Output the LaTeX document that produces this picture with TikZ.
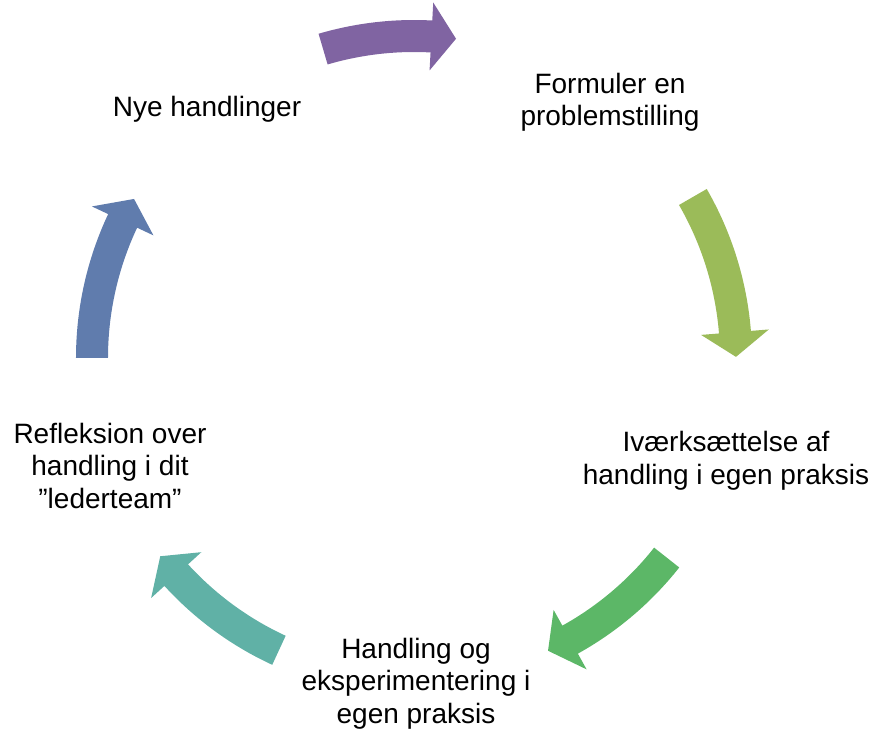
\documentclass[tikz,border=0pt]{standalone}
\usepackage{fontspec}
\setmainfont{Liberation Sans}
\definecolor{arrowpurple}{RGB}{128,100,162}
\definecolor{arrowlime}{RGB}{155,187,89}
\definecolor{arrowgreen}{RGB}{92,183,103}
\definecolor{arrowteal}{RGB}{96,177,166}
\definecolor{arrowblue}{RGB}{96,124,173}
\begin{document}
\begin{tikzpicture}[x=1pt,y=1pt,
  steplabel/.style={align=center, anchor=base, inner sep=0pt,
    font=\fontsize{28}{32.5}\selectfont}]
\useasboundingbox (-414,-372) rectangle (463,358);

% curved block arrows on the cycle: tail angle / tip angle / colour
% body between radii 306 and 338, head between radii 288 and 356
\foreach \ta/\tb/\col in {106.4/82.5/arrowpurple, 30/0.2/arrowlime,
    -38.3/-65.4/arrowgreen, -114.8/-142/arrowteal, 180/150.4/arrowblue}{
  \pgfmathsetmacro\nk{\tb+4.4}
  \fill[\col] (\ta:338) arc[start angle=\ta, end angle=\nk, radius=338]
    -- (\nk:356) -- (\tb:322) -- (\nk:288) -- (\nk:306)
    arc[start angle=\nk, end angle=\ta, radius=306] -- cycle;
}

% step texts (base anchor sits on the last line)
\node[steplabel] (formuler) at (196,232) {Formuler en\\problemstilling};
\node[steplabel] (ivaerk) at (312,-126.2) {Iværksættelse af\\handling i egen praksis};
\node[steplabel] (handling) at (2,-365) {Handling og\\eksperimentering i\\egen praksis};
\node[steplabel] (refleksion) at (-304,-150.3) {Refleksion over\\handling i dit\\”lederteam”};
\node[steplabel] (nye) at (-207,241.3) {Nye handlinger};
\end{tikzpicture}
\end{document}
